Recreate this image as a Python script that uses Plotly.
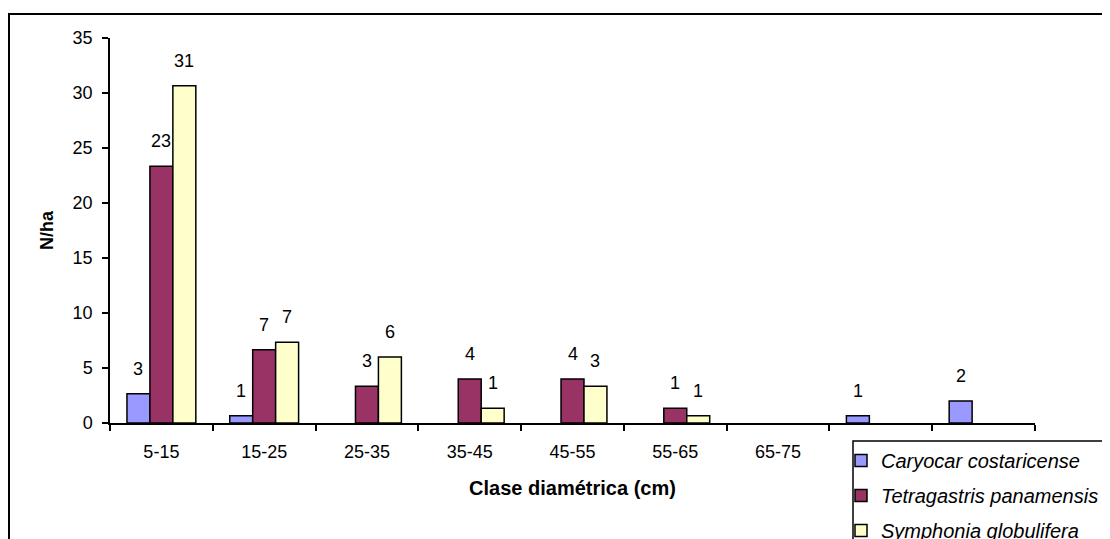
import plotly.graph_objects as go

categories = ["5-15", "15-25", "25-35", "35-45", "45-55", "55-65", "65-75", "75-85", "85-95"]
caryocar = [2.67, 0.67, 0, 0, 0, 0, 0, 0.67, 2.0]
tetragastris = [23.33, 6.67, 3.33, 4.0, 4.0, 1.33, 0, 0, 0]
symphonia = [30.67, 7.33, 6.0, 1.33, 3.33, 0.67, 0, 0, 0]
series_names = ["Caryocar costaricense", "Tetragastris panamensis", "Symphonia globulifera"]
series_values = [caryocar, tetragastris, symphonia]
colors = ["#9999FF", "#993366", "#FFFFCC"]

# page body has an 8px margin; work in screen pixels and convert
OFF = 8
W, H = 1110 - OFF, 539 - OFF
ML, MR, MT, MB = 110 - OFF, 75, 38 - OFF, 116
BARGAP = 0.33
FONT = "Arial, Liberation Sans, sans-serif"

fig = go.Figure()
for i, (name, vals, col) in enumerate(zip(series_names, series_values, colors)):
    fig.add_trace(go.Bar(
        x=categories, y=[v if v > 0 else None for v in vals], name=name, legendgroup=name,
        marker=dict(color=col, line=dict(color="black", width=1.5)),
    ))

plot_w = W - ML - MR
plot_h = H - MT - MB
bar_px = plot_w / len(categories) * (1 - BARGAP) / len(series_values)
annotations = []
for i, vals in enumerate(series_values):
    for c, v in zip(categories, vals):
        if v > 0:
            annotations.append(dict(
                x=c, y=v, xref="x", yref="y", text=str(int(round(v))),
                showarrow=False, yanchor="bottom", yshift=13,
                xshift=(i - 1) * bar_px,
                font=dict(family=FONT, size=18, color="black"),
            ))

def sx(px):  # screen x -> paper
    return (px - OFF - ML) / plot_w
def sy(py):  # screen y -> paper
    return (H - MB - (py - OFF)) / plot_h

shapes = [
    dict(type="rect", xref="paper", yref="paper",
         x0=sx(9), x1=sx(1130), y0=sy(570), y1=sy(14),
         line=dict(color="black", width=2), fillcolor="rgba(0,0,0,0)", layer="above"),
    dict(type="rect", xref="paper", yref="paper",
         x0=sx(853), x1=sx(1130), y0=sy(580), y1=sy(441),
         line=dict(color="black", width=1.5), fillcolor="white", layer="above"),
]

fig.update_layout(
    width=W, height=H,
    margin=dict(l=ML, r=MR, t=MT, b=MB, autoexpand=False),
    paper_bgcolor="white", plot_bgcolor="white",
    barmode="group", bargap=BARGAP, bargroupgap=0,
    font=dict(family=FONT, size=18, color="black"),
    xaxis=dict(
        showline=True, linecolor="black", linewidth=1.5,
        ticks="outside", ticklen=6, tickcolor="black", tickwidth=1.5,
        tickson="boundaries", showgrid=False, ticklabelstandoff=12,
        tickfont=dict(family=FONT, size=18),
        title=dict(text="<b>Clase diamétrica (cm)</b>", font=dict(family=FONT, size=20), standoff=20),
    ),
    yaxis=dict(
        range=[0, 35], dtick=5, showline=True, linecolor="black", linewidth=1.5,
        ticks="outside", ticklen=6, tickcolor="black", tickwidth=1.5,
        showgrid=False, zeroline=False, ticklabelstandoff=6,
        tickfont=dict(family=FONT, size=18),
        title=dict(text="<b>N/ha</b>", font=dict(family=FONT, size=18), standoff=14),
    ),
    legend=dict(
        x=sx(841), y=sy(441), xanchor="left", yanchor="top",
        bgcolor="rgba(0,0,0,0)", borderwidth=0, tracegroupgap=6,
        font=dict(family=FONT, size=20, style="italic"),
    ),
    annotations=annotations,
    shapes=shapes,
)

fig.write_html("out.html")
